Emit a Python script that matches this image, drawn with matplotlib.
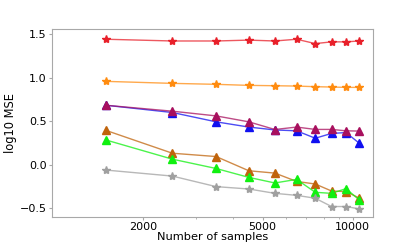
import matplotlib
matplotlib.use("Agg")
import matplotlib.pyplot as plt
from matplotlib.ticker import NullFormatter

# number of samples
n_samples = [1500, 2500, 3500, 4500, 5500, 6500, 7500, 8500, 9500, 10500]

# log10 MSE per method
red_mse = [1.44, 1.42, 1.42, 1.43, 1.42, 1.44, 1.39, 1.41, 1.41, 1.42]
orange_mse = [0.957, 0.934, 0.923, 0.911, 0.907, 0.903, 0.896, 0.892, 0.888, 0.888]
purple_mse = [0.683, 0.615, 0.561, 0.493, 0.405, 0.433, 0.406, 0.406, 0.39, 0.387]
blue_mse = [0.683, 0.60, 0.493, 0.433, 0.40, 0.39, 0.305, 0.36, 0.37, 0.25]
brown_mse = [0.395, 0.133, 0.095, -0.068, -0.095, -0.19, -0.22, -0.30, -0.307, -0.38]
green_mse = [0.285, 0.065, -0.042, -0.144, -0.208, -0.167, -0.315, -0.327, -0.273, -0.40]
gray_mse = [-0.06, -0.129, -0.25, -0.277, -0.327, -0.35, -0.383, -0.478, -0.478, -0.505]

fig = plt.figure(figsize=(4.15, 2.44), dpi=100)
ax = fig.add_axes([0.125, 0.11, 0.774, 0.771])

series = [
    (red_mse, "#e8202a", "*"),
    (orange_mse, "#ff8c10", "*"),
    (blue_mse, "#1010f0", "^"),
    (purple_mse, "#a8105e", "^"),
    (brown_mse, "#c0640c", "^"),
    (green_mse, "#10f010", "^"),
    (gray_mse, "#a0a0a0", "*"),
]
for vals, col, mk in series:
    # lines are a bit see-through, markers solid
    ax.plot(n_samples, vals, color=col, alpha=0.75, linewidth=1.0)
    ax.plot(n_samples, vals, color=col, marker=mk, linestyle="none",
            markersize=6 if mk == "*" else 5.5)

ax.set_xscale("log")
ax.set_xlim(990, 11700)
ax.set_ylim(-0.6, 1.557)
ax.set_xticks([2000, 5000, 10000])
ax.set_xticklabels(["2000", "5000", "10000"])
ax.xaxis.set_minor_formatter(NullFormatter())
ax.set_yticks([-0.5, 0.0, 0.5, 1.0, 1.5])

for sp in ax.spines.values():
    sp.set_color("#a8a8a8")
ax.tick_params(which="major", length=2.5, color="#a8a8a8", labelsize=8, pad=1.2)
ax.tick_params(which="minor", length=1.5, color="#a8a8a8")

ax.set_xlabel("Number of samples", fontsize=8.2, labelpad=-0.5)
ax.set_ylabel("log10 MSE", fontsize=8.3, labelpad=2)

fig.savefig("out.png", dpi=100)
